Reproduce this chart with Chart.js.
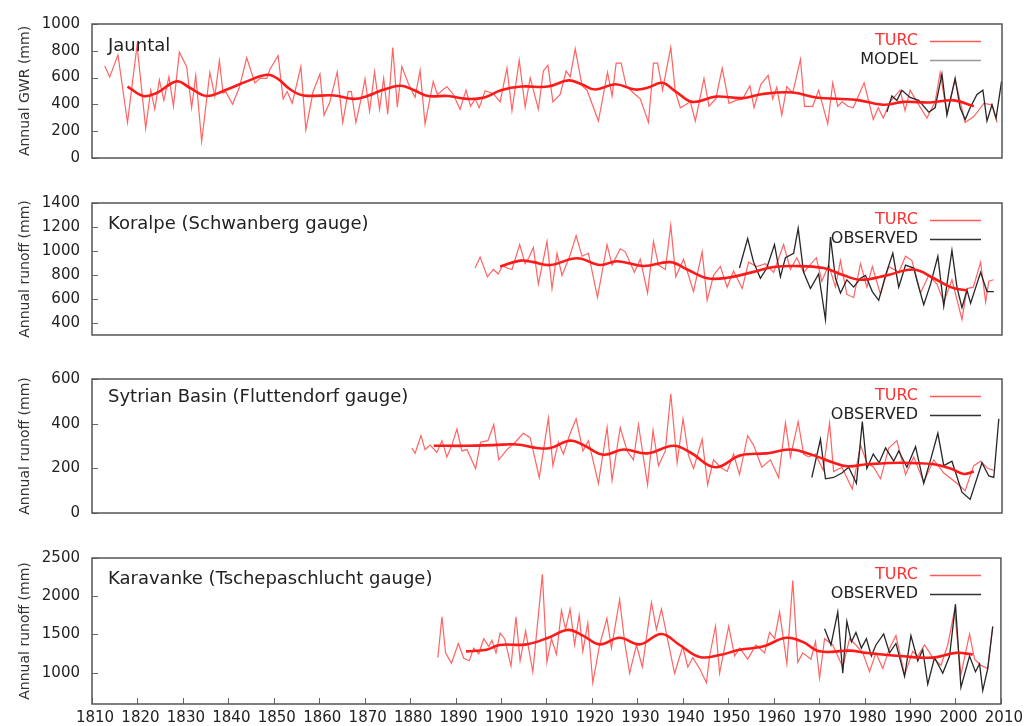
<!DOCTYPE html>
<html>
<head>
<meta charset="utf-8">
<script src="https://cdn.jsdelivr.net/npm/chart.js@4.4.1/dist/chart.umd.min.js"></script>
<style>
  body { margin: 0; background: #fff; }
  #wrap { position: relative; width: 1025px; height: 726px; background: #fff; overflow: hidden; }
  #wrap canvas { position: absolute; left: 0; }
</style>
</head>
<body>
<div id="wrap">
  <canvas id="p1" width="1025" height="176" style="top:3px"></canvas>
  <canvas id="p2" width="1025" height="174" style="top:182px"></canvas>
  <canvas id="p3" width="1025" height="176" style="top:358px"></canvas>
  <canvas id="p4" width="1025" height="189" style="top:537px"></canvas>
</div>
<script>
const year_ticks = [1810, 1820, 1830, 1840, 1850, 1860, 1870, 1880, 1890, 1900, 1910,
    1920, 1930, 1940, 1950, 1960, 1970, 1980, 1990, 2000, 2010];

// Jauntal
const jauntal_turc_years = [1812.8, 1813.9, 1815.7, 1817.8, 1819.9, 1821.8, 1822.9, 1823.8, 1824.8, 1825.8, 1826.9, 1827.9, 1829.2, 1830.8, 1831.9, 1832.8, 1834.1, 1835.9, 1837.0, 1838.0, 1838.8, 1839.4, 1840.9, 1842.4, 1844.0, 1845.8, 1846.9, 1848.4, 1849.1, 1850.9, 1852.0, 1852.9, 1854.0, 1855.9, 1857.0, 1858.6, 1860.1, 1861.0, 1862.2, 1863.9, 1865.1, 1866.3, 1867.0, 1868.0, 1869.3, 1870.0, 1871.0, 1872.1, 1873.2, 1874.1, 1875.0, 1876.1, 1877.1, 1878.1, 1879.5, 1881.0, 1882.1, 1883.2, 1885.0, 1885.9, 1888.0, 1889.4, 1890.9, 1892.2, 1893.2, 1894.2, 1895.1, 1896.4, 1898.2, 1899.7, 1901.2, 1902.3, 1903.9, 1905.2, 1906.3, 1908.1, 1909.2, 1910.2, 1911.3, 1912.9, 1914.2, 1915.1, 1916.2, 1917.7, 1918.8, 1921.3, 1923.3, 1924.3, 1925.2, 1926.3, 1927.4, 1929.0, 1930.5, 1932.3, 1933.4, 1934.3, 1935.4, 1937.2, 1938.2, 1939.3, 1941.5, 1942.6, 1944.5, 1945.6, 1947.1, 1948.5, 1950.0, 1951.5, 1953.0, 1954.6, 1955.5, 1957.0, 1958.6, 1959.6, 1960.5, 1961.6, 1962.7, 1964.0, 1965.7, 1966.6, 1968.4, 1969.7, 1971.7, 1972.8, 1973.9, 1974.9, 1976.1, 1977.3, 1979.7, 1981.7, 1982.8, 1983.9, 1985.4, 1987.6, 1988.7, 1989.8, 1991.3, 1993.5, 1995.3, 1996.4, 1997.9, 1999.7, 2001.9, 2003.8, 2006.0, 2007.8, 2008.9];
const jauntal_turc = [686, 605, 770, 265, 840, 221, 506, 364, 583, 430, 605, 386, 790, 682, 375, 616, 123, 638, 462, 726, 485, 495, 401, 528, 748, 561, 594, 594, 660, 765, 441, 496, 408, 682, 211, 496, 627, 320, 410, 643, 265, 496, 496, 265, 463, 590, 349, 643, 364, 594, 327, 825, 379, 682, 558, 452, 654, 254, 572, 474, 533, 474, 364, 506, 386, 441, 375, 502, 480, 419, 671, 353, 730, 379, 599, 364, 649, 693, 419, 474, 649, 605, 814, 539, 506, 276, 638, 463, 708, 708, 539, 485, 441, 265, 708, 708, 506, 825, 496, 375, 419, 276, 594, 386, 441, 671, 408, 430, 441, 539, 375, 550, 616, 441, 528, 320, 533, 485, 737, 386, 386, 506, 254, 561, 386, 419, 386, 375, 561, 287, 375, 298, 419, 506, 353, 506, 419, 298, 419, 638, 331, 583, 265, 309, 408, 397, 265];
const jauntal_model_years = [1984.7, 1985.8, 1986.9, 1988.0, 1989.8, 1991.7, 1993.9, 1995.3, 1996.8, 1997.9, 1999.7, 2000.8, 2001.9, 2003.0, 2004.5, 2005.8, 2006.7, 2007.8, 2008.7, 2009.9];
const jauntal_model = [342, 463, 430, 506, 452, 430, 342, 375, 627, 320, 594, 375, 287, 375, 474, 506, 276, 397, 298, 572];
const jauntal_smooth_years = [1817.8, 1821.3, 1824.2, 1828.6, 1831.5, 1835.2, 1839.6, 1844.0, 1848.5, 1850.7, 1853.6, 1856.5, 1863.2, 1867.6, 1870.5, 1874.2, 1877.9, 1880.8, 1883.8, 1888.2, 1892.6, 1896.2, 1899.9, 1904.4, 1910.2, 1914.7, 1917.6, 1920.6, 1925.0, 1929.4, 1932.4, 1935.3, 1938.3, 1941.9, 1947.1, 1953.0, 1957.4, 1964.0, 1969.1, 1978.0, 1983.9, 1988.3, 1994.2, 1999.4, 2003.8];
const jauntal_smooth = [533, 463, 485, 572, 524, 463, 511, 572, 621, 594, 511, 467, 467, 441, 463, 511, 539, 506, 463, 463, 441, 452, 506, 533, 533, 579, 550, 511, 550, 511, 528, 561, 496, 419, 458, 447, 478, 489, 452, 434, 397, 419, 414, 430, 386];

// Koralpe
const koralpe_turc_years = [1894.2, 1895.3, 1896.9, 1898.2, 1899.3, 1900.2, 1901.2, 1902.3, 1904.0, 1905.2, 1906.0, 1907.0, 1908.1, 1910.0, 1911.1, 1912.2, 1913.3, 1915.1, 1916.4, 1917.7, 1919.1, 1921.1, 1923.2, 1924.3, 1926.1, 1927.2, 1929.2, 1930.5, 1932.1, 1933.4, 1934.5, 1936.0, 1937.2, 1938.3, 1940.0, 1942.2, 1944.1, 1945.2, 1946.6, 1948.1, 1949.6, 1951.0, 1952.9, 1954.3, 1956.1, 1958.0, 1959.8, 1962.0, 1963.5, 1964.9, 1966.4, 1969.2, 1970.4, 1971.9, 1973.4, 1974.5, 1975.9, 1977.4, 1978.9, 1980.3, 1981.5, 1983.3, 1985.1, 1987.3, 1988.8, 1990.2, 1992.1, 1993.9, 1995.7, 1997.2, 1999.0, 2001.2, 2002.3, 2003.7, 2005.3, 2006.4, 2007.1, 2008.1];
const koralpe_turc = [858, 949, 785, 846, 809, 880, 858, 846, 1054, 895, 944, 1030, 724, 1079, 687, 981, 797, 969, 1128, 956, 981, 613, 1054, 883, 1018, 993, 822, 932, 650, 1079, 883, 846, 1214, 785, 932, 662, 993, 589, 797, 871, 699, 834, 687, 907, 871, 895, 822, 1054, 846, 944, 822, 944, 748, 883, 699, 920, 638, 613, 895, 699, 871, 638, 871, 822, 956, 920, 650, 797, 724, 576, 760, 429, 687, 699, 907, 576, 748, 760];
const koralpe_obs_years = [1952.3, 1954.1, 1955.4, 1956.9, 1958.3, 1960.0, 1961.3, 1962.4, 1964.2, 1965.2, 1966.4, 1967.9, 1969.7, 1971.2, 1972.3, 1973.4, 1974.5, 1975.9, 1977.4, 1978.9, 1980.0, 1981.5, 1982.9, 1984.4, 1986.0, 1987.3, 1988.8, 1990.6, 1991.7, 1992.8, 1994.3, 1995.9, 1997.2, 1999.0, 2000.1, 2001.2, 2002.3, 2003.1, 2005.3, 2006.7, 2008.2];
const koralpe_obs = [858, 1103, 907, 773, 858, 1054, 785, 944, 981, 1189, 822, 687, 809, 429, 1116, 773, 650, 760, 699, 773, 797, 662, 589, 797, 981, 699, 883, 858, 699, 552, 724, 956, 540, 1005, 699, 527, 675, 564, 822, 662, 662];
const koralpe_smooth_years = [1899.7, 1904.1, 1907.0, 1910.7, 1916.6, 1921.7, 1925.4, 1931.2, 1937.1, 1940.8, 1945.2, 1949.6, 1955.4, 1959.8, 1964.2, 1970.8, 1975.2, 1978.9, 1984.7, 1990.6, 1995.0, 1998.7, 2002.3];
const koralpe_smooth = [870, 920, 907, 883, 939, 883, 915, 875, 907, 846, 773, 777, 826, 866, 875, 858, 797, 760, 797, 846, 773, 699, 670];

// Sytrian Basin
const sytrian_turc_years = [1880.3, 1881.0, 1882.3, 1883.2, 1884.3, 1885.8, 1886.9, 1888.0, 1889.1, 1890.2, 1891.3, 1892.4, 1894.3, 1895.4, 1897.0, 1898.3, 1899.4, 1901.2, 1903.0, 1904.8, 1906.3, 1908.3, 1910.3, 1911.3, 1912.5, 1913.6, 1915.1, 1916.4, 1917.9, 1919.1, 1921.3, 1923.2, 1924.3, 1926.1, 1927.6, 1929.0, 1930.1, 1932.1, 1933.3, 1934.5, 1936.0, 1937.2, 1938.6, 1939.9, 1941.1, 1942.2, 1944.1, 1945.3, 1946.6, 1948.1, 1949.6, 1951.0, 1952.3, 1954.1, 1955.4, 1957.2, 1959.1, 1960.9, 1962.4, 1963.5, 1965.2, 1966.4, 1967.5, 1969.0, 1970.7, 1972.1, 1973.0, 1974.8, 1977.1, 1978.9, 1980.3, 1981.8, 1983.3, 1985.1, 1986.9, 1988.8, 1990.6, 1992.8, 1995.0, 1997.2, 2000.1, 2001.9, 2003.8, 2005.3, 2006.9, 2008.1];
const sytrian_turc = [291, 267, 347, 284, 304, 271, 324, 251, 304, 376, 278, 284, 199, 317, 324, 396, 238, 284, 317, 357, 337, 159, 425, 212, 317, 264, 357, 422, 278, 324, 133, 383, 146, 383, 278, 238, 396, 126, 370, 212, 278, 534, 225, 422, 258, 199, 330, 126, 238, 205, 186, 264, 172, 346, 304, 205, 238, 159, 403, 251, 409, 264, 251, 264, 192, 403, 186, 205, 107, 304, 225, 205, 153, 291, 324, 172, 251, 139, 238, 179, 133, 100, 212, 232, 199, 192];
const sytrian_obs_years = [1968.2, 1970.1, 1971.2, 1973.0, 1974.8, 1976.3, 1978.0, 1979.3, 1980.3, 1981.7, 1983.0, 1984.4, 1986.2, 1987.3, 1989.1, 1991.0, 1992.8, 1994.3, 1995.9, 1997.2, 1999.0, 2001.2, 2003.0, 2005.6, 2007.1, 2008.2, 2009.3];
const sytrian_obs = [159, 330, 153, 159, 179, 205, 133, 409, 199, 264, 225, 291, 232, 278, 205, 297, 133, 238, 357, 212, 232, 93, 61, 225, 166, 159, 422];
const sytrian_smooth_years = [1885.1, 1892.4, 1898.2, 1903.4, 1907.8, 1910.7, 1915.1, 1918.0, 1922.4, 1926.8, 1932.0, 1937.8, 1941.5, 1947.0, 1952.5, 1958.3, 1963.5, 1968.6, 1973.0, 1976.0, 1980.3, 1987.7, 1995.0, 1998.7, 2001.6, 2003.8];
const sytrian_smooth = [301, 301, 304, 307, 291, 291, 324, 304, 261, 284, 267, 301, 271, 205, 258, 267, 284, 258, 225, 209, 218, 225, 218, 199, 175, 186];

// Karavanke
const karavanke_turc_years = [1886.1, 1887.0, 1887.8, 1889.1, 1890.6, 1891.8, 1893.0, 1894.0, 1895.1, 1896.2, 1897.3, 1898.0, 1898.9, 1899.8, 1900.8, 1902.2, 1903.3, 1904.2, 1905.4, 1907.0, 1909.1, 1910.1, 1911.1, 1912.2, 1913.3, 1914.2, 1915.2, 1916.2, 1917.2, 1918.0, 1919.1, 1920.2, 1921.7, 1923.3, 1924.3, 1926.1, 1927.2, 1928.3, 1929.8, 1931.1, 1933.1, 1934.2, 1935.3, 1936.7, 1938.2, 1940.0, 1941.1, 1942.2, 1943.7, 1945.2, 1945.9, 1947.2, 1948.1, 1950.1, 1951.4, 1952.5, 1954.3, 1956.1, 1958.0, 1959.1, 1960.2, 1961.3, 1962.9, 1964.2, 1965.3, 1966.4, 1968.2, 1969.2, 1970.1, 1971.2, 1973.0, 1975.2, 1976.7, 1978.1, 1979.6, 1981.1, 1982.5, 1984.0, 1985.5, 1986.9, 1988.8, 1990.6, 1991.7, 1993.2, 1995.0, 1996.8, 1998.3, 1999.8, 2001.2, 2003.1, 2004.2, 2005.6, 2007.1, 2008.2];
const karavanke_turc = [1197, 1732, 1259, 1123, 1382, 1189, 1156, 1321, 1247, 1444, 1341, 1423, 1259, 1516, 1444, 1085, 1732, 1156, 1547, 1012, 2286, 1136, 1444, 1238, 1814, 1567, 1834, 1362, 1752, 1279, 1649, 868, 1362, 1711, 1321, 1958, 1403, 992, 1362, 1074, 1917, 1567, 1834, 1423, 992, 1341, 1074, 1197, 1053, 868, 1218, 1608, 992, 1608, 1218, 1321, 1177, 1362, 1259, 1526, 1444, 1793, 1115, 2204, 1136, 1259, 1177, 1403, 930, 1444, 1362, 1074, 1444, 1362, 1259, 1012, 1259, 1053, 1321, 1485, 971, 1279, 1218, 1362, 1197, 1095, 1362, 1814, 971, 1506, 1177, 1095, 1053, 1608];
const karavanke_obs_years = [1971.2, 1972.6, 1974.1, 1975.2, 1976.1, 1977.1, 1978.1, 1979.3, 1980.4, 1981.5, 1982.5, 1984.2, 1985.5, 1986.9, 1988.8, 1990.2, 1991.7, 1992.8, 1993.9, 1995.4, 1997.2, 1998.7, 2000.0, 2001.2, 2003.1, 2004.4, 2005.3, 2006.0, 2007.1, 2008.2];
const karavanke_obs = [1575, 1362, 1793, 992, 1670, 1403, 1526, 1321, 1444, 1218, 1362, 1506, 1259, 1382, 951, 1485, 1156, 1300, 848, 1197, 992, 1218, 1896, 807, 1218, 1012, 1115, 766, 1053, 1600];
const karavanke_smooth_years = [1892.3, 1896.8, 1899.7, 1905.6, 1910.7, 1914.7, 1918.0, 1921.7, 1926.1, 1930.5, 1935.3, 1939.3, 1943.7, 1948.1, 1952.5, 1957.6, 1962.7, 1966.4, 1970.1, 1976.7, 1980.3, 1987.7, 1995.0, 2000.1, 2003.8];
const karavanke_smooth = [1279, 1300, 1362, 1370, 1464, 1559, 1485, 1370, 1456, 1370, 1506, 1362, 1205, 1230, 1300, 1341, 1456, 1403, 1279, 1288, 1259, 1218, 1197, 1259, 1238];

const panel_titles = ['Jauntal', 'Koralpe (Schwanberg gauge)', 'Sytrian Basin (Fluttendorf gauge)', 'Karavanke (Tschepaschlucht gauge)'];
const axis_titles = ['Annual GWR (mm)', 'Annual runoff (mm)', 'Annual runoff (mm)', 'Annual runoff (mm)'];
const second_names = ['MODEL', 'OBSERVED', 'OBSERVED', 'OBSERVED'];
const y_ticks = [
    [0, 200, 400, 600, 800, 1000],
    [400, 600, 800, 1000, 1200, 1400],
    [0, 200, 400, 600],
    [1000, 1500, 2000, 2500]
];
const y_ranges = [[0, 1000], [300, 1400], [0, 600], [590, 2500]];

const FONT = '"DejaVu Sans", sans-serif';

function pts(years, vals) {
    return years.map((y, i) => ({ x: y, y: vals[i] }));
}

// frame, inward ticks, titles and legend
const decor = {
    id: 'decor',
    afterDraw(chart, args, o) {
        const ctx = chart.ctx;
        const a = chart.chartArea;
        const sx = chart.scales.x, sy = chart.scales.y;
        ctx.save();
        ctx.strokeStyle = '#666';
        ctx.lineWidth = 1;
        ctx.beginPath();
        sy.ticks.forEach(t => {
            const y = Math.round(sy.getPixelForValue(t.value)) + 0.5;
            ctx.moveTo(a.left, y);
            ctx.lineTo(a.left + 6, y);
        });
        if (o.xTicks) {
            sx.ticks.forEach(t => {
                const x = Math.round(sx.getPixelForValue(t.value)) + 0.5;
                ctx.moveTo(x, a.bottom);
                ctx.lineTo(x, a.bottom - 6);
            });
        }
        ctx.stroke();

        ctx.strokeStyle = '#555';
        ctx.lineWidth = 1.5;
        ctx.strokeRect(a.left, a.top, a.right - a.left, a.bottom - a.top);

        ctx.fillStyle = '#222';
        ctx.font = '18px ' + FONT;
        ctx.textAlign = 'left';
        ctx.textBaseline = 'middle';
        ctx.fillText(o.title, 108, a.top + o.titleDy);

        ctx.save();
        ctx.translate(25, (a.top + a.bottom) / 2);
        ctx.rotate(-Math.PI / 2);
        ctx.font = '14px ' + FONT;
        ctx.textAlign = 'center';
        ctx.fillStyle = '#333';
        ctx.fillText(o.axisTitle, 0, 0);
        ctx.restore();

        const rows = [['TURC', '#ff3030', '#ff5a5a'], [o.second, '#222', o.secondLine]];
        ctx.font = '16px ' + FONT;
        ctx.textAlign = 'right';
        rows.forEach((r, i) => {
            const y = a.top + 17 + i * 19;
            ctx.fillStyle = r[1];
            ctx.fillText(r[0], 918, y);
            ctx.strokeStyle = r[2];
            ctx.lineWidth = 1.5;
            ctx.beginPath();
            ctx.moveTo(930, y + 0.5);
            ctx.lineTo(981, y + 0.5);
            ctx.stroke();
        });
        ctx.restore();
    }
};

function make_panel(id, i, turc, second, smooth, opts) {
    return new Chart(document.getElementById(id), {
        type: 'line',
        data: {
            datasets: [
                { data: smooth, borderColor: '#ff1a1a', borderWidth: 2.6, tension: 0.4, order: 0 },
                { data: second, borderColor: '#262626', borderWidth: 1.3, order: 1 },
                { data: turc, borderColor: 'rgba(255, 60, 60, 0.8)', borderWidth: 1.2, order: 2 }
            ]
        },
        options: {
            responsive: false,
            animation: false,
            events: [],
            layout: { padding: { top: 12, bottom: opts.padBottom, left: 0, right: 23 } },
            elements: { point: { radius: 0 }, line: { tension: 0 } },
            plugins: {
                legend: { display: false },
                tooltip: { enabled: false },
                decor: {
                    title: panel_titles[i],
                    titleDy: opts.titleDy,
                    axisTitle: axis_titles[i],
                    second: second_names[i],
                    secondLine: i == 0 ? '#999' : '#333',
                    xTicks: opts.showX
                }
            },
            scales: {
                x: {
                    type: 'linear',
                    min: 1810,
                    max: 2010,
                    afterBuildTicks: s => { s.ticks = year_ticks.map(v => ({ value: v })); },
                    afterFit: s => { s.height = opts.xHeight; },
                    grid: { display: false, drawTicks: false },
                    border: { display: false },
                    ticks: {
                        display: opts.showX,
                        padding: 5,
                        labelOffset: 3,
                        autoSkip: false,
                        maxRotation: 0,
                        color: '#222',
                        font: { family: FONT, size: 15 },
                        callback: v => String(v)
                    }
                },
                y: {
                    type: 'linear',
                    min: y_ranges[i][0],
                    max: y_ranges[i][1],
                    afterBuildTicks: s => { s.ticks = y_ticks[i].map(v => ({ value: v })); },
                    afterFit: s => { s.width = 92; },
                    grid: { display: false, drawTicks: false },
                    border: { display: false },
                    ticks: {
                        padding: 12,
                        color: '#222',
                        font: { family: FONT, size: 15 },
                        callback: v => String(v)
                    }
                }
            }
        },
        plugins: [decor]
    });
}

make_panel('p1', 0, pts(jauntal_turc_years, jauntal_turc), pts(jauntal_model_years, jauntal_model),
    pts(jauntal_smooth_years, jauntal_smooth), { padBottom: 12, xHeight: 0, showX: false, titleDy: 22 });
make_panel('p2', 1, pts(koralpe_turc_years, koralpe_turc), pts(koralpe_obs_years, koralpe_obs),
    pts(koralpe_smooth_years, koralpe_smooth), { padBottom: 12, xHeight: 0, showX: false, titleDy: 21 });
make_panel('p3', 2, pts(sytrian_turc_years, sytrian_turc), pts(sytrian_obs_years, sytrian_obs),
    pts(sytrian_smooth_years, sytrian_smooth), { padBottom: 12, xHeight: 0, showX: false, titleDy: 18 });
make_panel('p4', 3, pts(karavanke_turc_years, karavanke_turc), pts(karavanke_obs_years, karavanke_obs),
    pts(karavanke_smooth_years, karavanke_smooth), { padBottom: 0, xHeight: 22, showX: true, titleDy: 21 });
</script>
</body>
</html>
